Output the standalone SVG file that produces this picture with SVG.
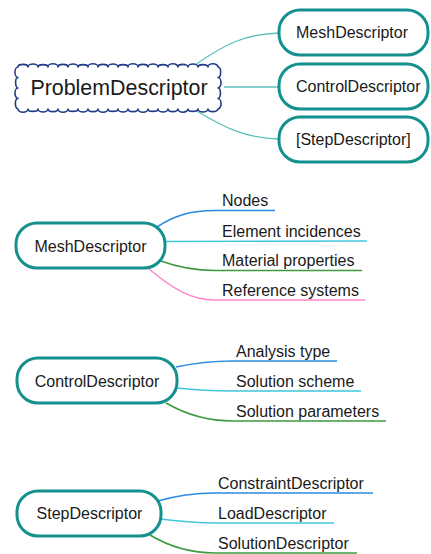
<svg xmlns="http://www.w3.org/2000/svg" width="431" height="554" viewBox="0 0 431 554">
  <style>
    .bg { fill: #ffffff; }
    .box { fill: #ffffff; stroke: #14908e; stroke-width: 3; }
    .cloud { fill: #ffffff; stroke: #1f3d86; stroke-width: 1.6; stroke-linejoin: round; }
    .lbl { font-family: "Liberation Sans", Arial, Helvetica, sans-serif; font-size: 16px; fill: #1a1a1a; }
    .title { font-family: "Liberation Sans", Arial, Helvetica, sans-serif; font-size: 21.4px; fill: #1a1a1a; }
    .link { fill: none; stroke: #5cc0bf; stroke-width: 1.3; }
    .br { fill: none; stroke-width: 1.6; }
    .blue { stroke: #2a8ae2; }
    .cyan { stroke: #3fc6db; }
    .green { stroke: #3d9a3f; }
    .pink { stroke: #ff86cc; }
  </style>

  <rect class="bg" x="0" y="0" width="431" height="554"/>

  <!-- connectors -->
  <g id="connectors">
    <!-- root to first-level descriptors -->
    <path class="link" d="M195,65 C225,44 245,34 279,33"/>
    <path class="link" d="M224,87 L279,87"/>
    <path class="link" d="M195,110 C225,128 245,138 279,139"/>

    <!-- MeshDescriptor branches -->
    <path class="br blue" d="M157,227 C175,215 192,210.5 215,210.5 L275,210.5"/>
    <path class="br cyan" d="M165,241.5 L367,241"/>
    <path class="br green" d="M161,261 C180,268 195,270.5 215,270.5 L362,270.5"/>
    <path class="br pink" d="M149,269 C172,288 190,300 215,300 L365,300"/>

    <!-- ControlDescriptor branches -->
    <path class="br blue" d="M176,367 C195,363 210,361 233,361 L337,361"/>
    <path class="br cyan" d="M177,388 C195,390 210,391 233,391 L361,391"/>
    <path class="br green" d="M166,403 C185,414 205,421 233,421 L386,421"/>

    <!-- StepDescriptor branches -->
    <path class="br blue" d="M158,501 C175,496 192,493 215,493 L373,493"/>
    <path class="br cyan" d="M160,519 C177,521 195,523 215,523 L334,523"/>
    <path class="br green" d="M150,535 C170,547 190,553 215,553 L357,553"/>
  </g>

  <!-- root node: scalloped outline -->
  <g id="problem-descriptor">
    <path class="cloud" d="M18,67
      a5,2.6 0 0 1 10,0 a5,3 0 0 1 10,0 a5,2.4 0 0 1 10,0 a5,3.2 0 0 1 10,0 a5,2.6 0 0 1 10,0
      a5,3 0 0 1 10,0 a5,2.4 0 0 1 10,0 a5,3.2 0 0 1 10,0 a5,2.6 0 0 1 10,0 a5,3 0 0 1 10,0
      a5,2.4 0 0 1 10,0 a5,3.2 0 0 1 10,0 a5,2.6 0 0 1 10,0 a5,3 0 0 1 10,0 a5,2.4 0 0 1 10,0
      a5,3.2 0 0 1 10,0 a5,2.6 0 0 1 10,0 a5,3 0 0 1 10,0 a5,2.4 0 0 1 10,0 a5,3.2 0 0 1 10,0
      a2.6,5.2 0 0 1 0,10.5 a3,5.2 0 0 1 0,10.5 a2.4,5.2 0 0 1 0,10.5 a3,5.2 0 0 1 0,10.5
      a5,2.6 0 0 1 -10,0 a5,3 0 0 1 -10,0 a5,2.4 0 0 1 -10,0 a5,3.2 0 0 1 -10,0 a5,2.6 0 0 1 -10,0
      a5,3 0 0 1 -10,0 a5,2.4 0 0 1 -10,0 a5,3.2 0 0 1 -10,0 a5,2.6 0 0 1 -10,0 a5,3 0 0 1 -10,0
      a5,2.4 0 0 1 -10,0 a5,3.2 0 0 1 -10,0 a5,2.6 0 0 1 -10,0 a5,3 0 0 1 -10,0 a5,2.4 0 0 1 -10,0
      a5,3.2 0 0 1 -10,0 a5,2.6 0 0 1 -10,0 a5,3 0 0 1 -10,0 a5,2.4 0 0 1 -10,0 a5,3.2 0 0 1 -10,0
      a2.6,5.2 0 0 1 0,-10.5 a3,5.2 0 0 1 0,-10.5 a2.4,5.2 0 0 1 0,-10.5 a3,5.2 0 0 1 0,-10.5 Z"/>
    <text class="title" x="119" y="95" text-anchor="middle">ProblemDescriptor</text>
  </g>

  <!-- first-level descriptors -->
  <g id="top-mesh">
    <rect class="box" x="279" y="10" width="149" height="45" rx="21"/>
    <text class="lbl" x="296" y="38">MeshDescriptor</text>
  </g>
  <g id="top-control">
    <rect class="box" x="279" y="64" width="149" height="45" rx="21"/>
    <text class="lbl" x="296" y="92">ControlDescriptor</text>
  </g>
  <g id="top-step">
    <rect class="box" x="279" y="117" width="149" height="45" rx="21"/>
    <text class="lbl" x="296" y="145">[StepDescriptor]</text>
  </g>

  <!-- MeshDescriptor breakdown -->
  <g id="mesh">
    <rect class="box" x="16" y="223" width="149" height="45" rx="21"/>
    <text class="lbl" x="90.5" y="252" text-anchor="middle">MeshDescriptor</text>
  </g>
  <g id="mesh-nodes"><text class="lbl" x="222" y="206">Nodes</text></g>
  <g id="mesh-elements"><text class="lbl" x="222" y="236.5">Element incidences</text></g>
  <g id="mesh-materials"><text class="lbl" x="222" y="266">Material properties</text></g>
  <g id="mesh-refsys"><text class="lbl" x="222" y="296">Reference systems</text></g>

  <!-- ControlDescriptor breakdown -->
  <g id="control">
    <rect class="box" x="17" y="358" width="160" height="45" rx="21"/>
    <text class="lbl" x="97" y="387" text-anchor="middle">ControlDescriptor</text>
  </g>
  <g id="control-analysis"><text class="lbl" x="236" y="357">Analysis type</text></g>
  <g id="control-scheme"><text class="lbl" x="236" y="387">Solution scheme</text></g>
  <g id="control-params"><text class="lbl" x="236" y="416.5">Solution parameters</text></g>

  <!-- StepDescriptor breakdown -->
  <g id="step">
    <rect class="box" x="17" y="491" width="144" height="45" rx="21"/>
    <text class="lbl" x="89.5" y="519" text-anchor="middle">StepDescriptor</text>
  </g>
  <g id="step-constraint"><text class="lbl" x="218" y="488.5">ConstraintDescriptor</text></g>
  <g id="step-load"><text class="lbl" x="218" y="518.5">LoadDescriptor</text></g>
  <g id="step-solution"><text class="lbl" x="218" y="548.5">SolutionDescriptor</text></g>
</svg>
